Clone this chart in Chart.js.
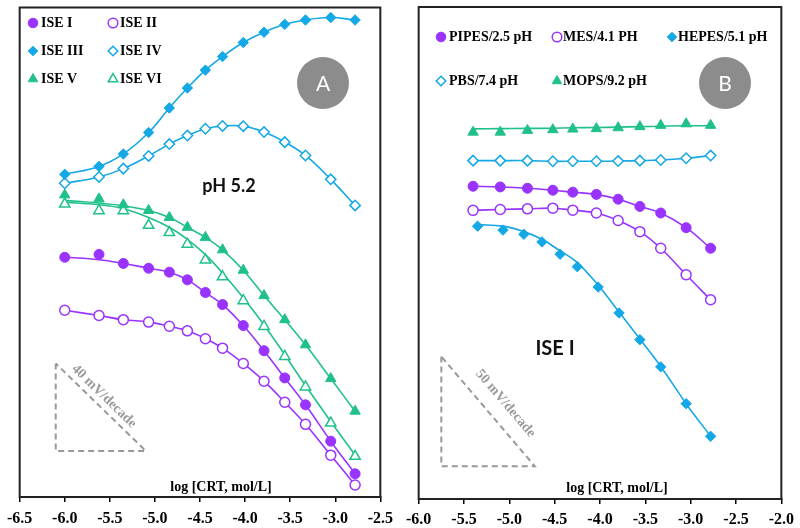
<!DOCTYPE html>
<html><head><meta charset="utf-8">
<script src="https://cdn.jsdelivr.net/npm/chart.js@4.4.1/dist/chart.umd.min.js"></script>
<style>html,body{margin:0;padding:0;background:#fff;} canvas{position:absolute;top:0;}</style>
</head><body>
<canvas id="cA" width="400" height="528" style="left:0px"></canvas>
<canvas id="cB" width="400" height="528" style="left:400px"></canvas>
<script>
const PURPLE = '#9933FF', BLUE = '#14A8E6', GREEN = '#20C08C', SLOPE = '#9a9a9a';

// ---------- Panel A (pH 5.2) ----------
const logCA    = [-6.0,-5.62,-5.35,-5.07,-4.84,-4.64,-4.44,-4.25,-4.02,-3.79,-3.56,-3.33,-3.05,-2.78];
const iseI     = [109.5,110.8,106.7,104.5,102.7,99.2,93.4,87.9,78.3,66.8,54.4,42.1,25.5,10.6];
const iseIFit  = [109.5,108.4,106.7,104.5,102.7,99.2,93.4,87.9,78.3,66.8,54.4,42.1,25.5,10.6];
const iseII    = [85.3,82.9,81.0,79.9,78.0,75.9,72.3,68.0,61.0,52.9,43.3,33.2,19.1,5.5];
const iseIII   = [147.4,151.0,156.7,166.5,177.7,186.8,195.0,201.2,207.6,212.3,215.9,217.9,219.0,217.9];
const iseIV    = [143.3,146.2,150.0,155.8,161.2,165.1,168.2,169.5,169.4,166.7,162.1,156.0,145.1,133.2];
const iseV     = [138.0,136.2,133.5,130.9,127.7,123.2,118.6,112.9,103.6,92.0,81.0,69.5,54.1,39.2];
const iseVFit  = [135.5,134.3,133.0,130.9,127.7,123.2,118.6,112.9,103.6,92.0,81.0,69.5,54.1,39.2];
const iseVI    = [133.8,130.8,130.8,124.1,120.8,115.5,108.3,100.6,89.7,77.9,64.2,50.3,33.8,18.6];
const iseVIFit = [134.7,133.5,131.7,127.7,123.2,117.7,110.7,102.3,91.0,78.6,65.0,50.9,34.5,19.1];
const slopeA_x = [-6.1,-6.1,-5.1,-6.1];
const slopeA_y = [61,21,21,61];
const slopeA_label = '40 mV/decade';

// ---------- Panel B (ISE I, buffers) ----------
const logCB     = [-5.40,-5.10,-4.80,-4.52,-4.30,-4.04,-3.80,-3.56,-3.33,-3.05,-2.78];
const pipes     = [142.7,142.4,141.8,140.9,140.0,139.0,136.8,133.5,130.5,123.8,114.4];
const mes       = [131.7,132.1,132.4,132.7,131.8,130.5,127.1,122.0,114.4,102.3,90.9];
const pbs       = [154.4,154.4,154.4,154.1,154.1,154.1,154.2,154.4,154.7,155.5,156.7];
const mops      = [167.4,167.4,168.2,168.5,168.8,169.0,169.4,169.9,170.5,171.2,170.5];
const mopsFit   = [168.9,169.0,169.1,169.2,169.4,169.5,169.7,169.9,170.1,170.3,170.3];
const logCH     = [-5.35,-5.07,-4.84,-4.64,-4.44,-4.25,-4.02,-3.79,-3.56,-3.33,-3.05,-2.78];
const hepes     = [124.5,122.7,120.8,117.3,111.7,106.0,96.7,84.9,72.7,60.3,43.5,28.6];
const hepesFit  = [125.2,124.5,122.0,118.5,113.2,107.9,97.5,85.3,73.0,60.5,43.5,28.6];
const slopeB_x = [-5.75,-5.75,-4.72,-5.75];
const slopeB_y = [65,15,15,65];
const slopeB_label = '50 mV/decade';

const xTitle = 'log [CRT, mol/L]';

function pts(xs, ys){ return xs.map((x,i)=>({x:x, y:ys[i]})); }
function markerDs(label, xs, ys, color, style, filled, r){
  return {label:label, data:pts(xs,ys), showLine:false, pointStyle:style, pointRadius:r, pointHoverRadius:r,
    pointBackgroundColor: filled?color:'#ffffff', pointBorderColor:color, pointBorderWidth: filled?1:1.5, order:0};
}
function fitDs(xs, ys, color){
  return {label:'', data:pts(xs,ys), showLine:true, borderColor:color, borderWidth:1.6, pointRadius:0,
    pointHoverRadius:0, tension:0.4, fill:false, order:1};
}
function slopeDs(xs, ys){
  return {label:'', data:pts(xs,ys), showLine:true, borderColor:'#999999', borderWidth:2, borderDash:[6,4],
    pointRadius:0, pointHoverRadius:0, tension:0, fill:false, order:2};
}

function drawMarker(ctx, style, x, y, r){
  ctx.beginPath();
  if(style==='circle'){ ctx.arc(x,y,r,0,Math.PI*2); }
  else if(style==='rectRot'){ ctx.moveTo(x,y-r); ctx.lineTo(x+r,y); ctx.lineTo(x,y+r); ctx.lineTo(x-r,y); ctx.closePath(); }
  else { const h=r*Math.sqrt(3)/2; ctx.moveTo(x,y-r); ctx.lineTo(x+h,y+r/2); ctx.lineTo(x-h,y+r/2); ctx.closePath(); }
  ctx.fill(); ctx.stroke();
}

function makeDecor(cfg){
  return {
    id:'decor',
    afterDraw(chart){
      const ctx = chart.ctx, ca = chart.chartArea, xs = chart.scales.x, ys = chart.scales.y;
      ctx.save();
      // frame
      ctx.strokeStyle = '#222'; ctx.lineWidth = 2;
      ctx.strokeRect(ca.left, ca.top, ca.right-ca.left, ca.bottom-ca.top);
      // legend
      cfg.legend.forEach(it=>{
        const ds = chart.data.datasets[it.ds];
        ctx.fillStyle = ds.pointBackgroundColor; ctx.strokeStyle = ds.pointBorderColor; ctx.lineWidth = ds.pointBorderWidth;
        drawMarker(ctx, ds.pointStyle, it.mx, it.y, ds.pointStyle==='triangle'?5.5:4.8);
        ctx.fillStyle = '#000'; ctx.font = 'bold 14px "Liberation Serif"';
        ctx.textAlign = 'left'; ctx.textBaseline = 'middle';
        ctx.fillText(ds.label, it.tx, it.y+0.5);
      });
      // badge
      ctx.fillStyle = '#8c8c8c';
      ctx.beginPath(); ctx.arc(cfg.badge.x, cfg.badge.y, 26, 0, Math.PI*2); ctx.fill();
      ctx.fillStyle = '#fff'; ctx.font = '21px Lato'; ctx.textAlign='center'; ctx.textBaseline='middle';
      ctx.fillText(cfg.badge.t, cfg.badge.x, cfg.badge.y+1);
      // note label
      ctx.fillStyle = '#111'; ctx.font = 'bold '+cfg.note.size+'px Lato';
      ctx.fillText(cfg.note.t, cfg.note.x, cfg.note.y);
      // x title inside plot
      ctx.fillStyle = '#000'; ctx.font = 'bold 14px "Liberation Serif"';
      ctx.fillText(xTitle, cfg.xt.x, cfg.xt.y);
      // slope label along hypotenuse
      const sx = cfg.slope.xs, sy = cfg.slope.ys;
      const p0x = xs.getPixelForValue(sx[0]), p0y = ys.getPixelForValue(sy[0]);
      const p2x = xs.getPixelForValue(sx[2]), p2y = ys.getPixelForValue(sy[2]);
      const ang = Math.atan2(p2y-p0y, p2x-p0x);
      ctx.translate(xs.getPixelForValue(cfg.slope.lx), ys.getPixelForValue(cfg.slope.ly));
      ctx.rotate(ang);
      ctx.fillStyle = SLOPE; ctx.font = 'bold 14px "Liberation Serif"';
      ctx.fillText(cfg.slope.t, 0, 0);
      ctx.restore();
    }
  };
}

function makeOptions(xmin, xmax, ymax, pad, axisH, tickPad){
  return {
    responsive:false, animation:false, devicePixelRatio:1,
    layout:{padding:pad},
    plugins:{legend:{display:false}, tooltip:{enabled:false}},
    scales:{
      x:{type:'linear', min:xmin, max:xmax,
        ticks:{stepSize:0.5, autoSkip:false, maxRotation:0, padding:tickPad, color:'#000',
          font:{family:'"Liberation Serif"', size:16, weight:'bold'},
          callback:(v)=>Number(v).toFixed(1)},
        grid:{display:true, drawOnChartArea:false, drawTicks:true, tickLength:5, color:'#000', lineWidth:1.5},
        border:{display:true, color:'#222', width:2},
        afterFit:(s)=>{ s.height = axisH; }},
      y:{display:false, min:0, max:ymax}
    }
  };
}

// Panel A chart
const dsA = [
  markerDs('ISE I', logCA, iseI, PURPLE, 'circle', true, 5),
  markerDs('ISE II', logCA, iseII, PURPLE, 'circle', false, 5),
  markerDs('ISE III', logCA, iseIII, BLUE, 'rectRot', true, 5.2),
  markerDs('ISE IV', logCA, iseIV, BLUE, 'rectRot', false, 5.2),
  markerDs('ISE V', logCA, iseV, GREEN, 'triangle', true, 6),
  markerDs('ISE VI', logCA, iseVI, GREEN, 'triangle', false, 6),
  fitDs(logCA, iseIFit, PURPLE),
  fitDs(logCA, iseII, PURPLE),
  fitDs(logCA, iseIII, BLUE),
  fitDs(logCA, iseIV, BLUE),
  fitDs(logCA, iseVFit, GREEN),
  fitDs(logCA, iseVIFit, GREEN),
  slopeDs(slopeA_x, slopeA_y)
];
new Chart(document.getElementById('cA'), {
  type:'scatter',
  data:{datasets:dsA},
  options: makeOptions(-6.5, -2.5, 223.6, {left:16, right:14, top:5, bottom:0}, 31, 7),
  plugins:[makeDecor({
    legend:[
      {ds:0, mx:33, tx:41, y:23}, {ds:1, mx:113, tx:120, y:23},
      {ds:2, mx:33, tx:41, y:51}, {ds:3, mx:113, tx:120, y:51},
      {ds:4, mx:33, tx:41, y:79}, {ds:5, mx:113, tx:120, y:79}
    ],
    badge:{x:323, y:83, t:'A'},
    note:{t:'pH 5.2', x:229, y:186, size:18},
    xt:{x:221, y:487},
    slope:{xs:slopeA_x, ys:slopeA_y, lx:-5.565, ly:46, t:slopeA_label}
  })]
});

// Panel B chart
const dsB = [
  markerDs('PIPES/2.5 pH', logCB, pipes, PURPLE, 'circle', true, 5),
  markerDs('MES/4.1 PH', logCB, mes, PURPLE, 'circle', false, 5),
  markerDs('HEPES/5.1 pH', logCH, hepes, BLUE, 'rectRot', true, 5.2),
  markerDs('PBS/7.4 pH', logCB, pbs, BLUE, 'rectRot', false, 5.2),
  markerDs('MOPS/9.2 pH', logCB, mops, GREEN, 'triangle', true, 6),
  fitDs(logCB, pipes, PURPLE),
  fitDs(logCB, mes, PURPLE),
  fitDs(logCH, hepesFit, BLUE),
  fitDs(logCB, pbs, BLUE),
  fitDs(logCB, mopsFit, GREEN),
  slopeDs(slopeB_x, slopeB_y)
];
new Chart(document.getElementById('cB'), {
  type:'scatter',
  data:{datasets:dsB},
  options: makeOptions(-6.0, -2.0, 224.5, {left:14, right:16, top:5, bottom:0}, 29, 6),
  plugins:[makeDecor({
    legend:[
      {ds:0, mx:41, tx:49, y:37}, {ds:1, mx:157, tx:163, y:37}, {ds:2, mx:272, tx:278, y:37},
      {ds:3, mx:41, tx:49, y:81}, {ds:4, mx:157, tx:163, y:81}
    ],
    badge:{x:325, y:83, t:'B'},
    note:{t:'ISE I', x:155, y:349, size:20},
    xt:{x:217, y:488},
    slope:{xs:slopeB_x, ys:slopeB_y, lx:-5.043, ly:43.6, t:slopeB_label}
  })]
});
</script>
</body></html>
